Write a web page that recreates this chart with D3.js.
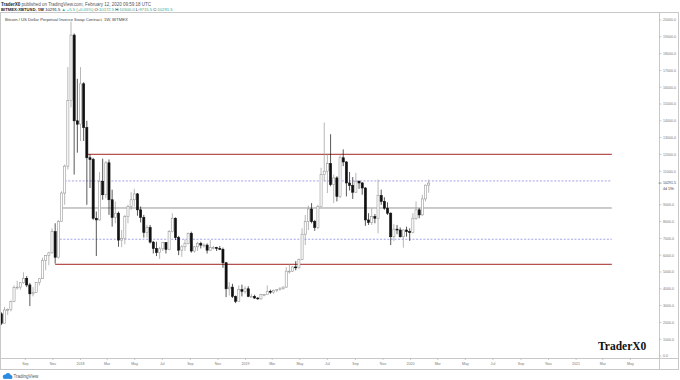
<!DOCTYPE html>
<html><head><meta charset="utf-8">
<script src="https://cdn.jsdelivr.net/npm/d3@7"></script>
<style>body{margin:0;background:#fff}svg{display:block;font-family:"Liberation Sans",Arial,sans-serif}</style>
</head><body><svg id="c" width="680" height="380"></svg>
<script>
// ---- DATA ----
const weeks = [
"2017-07-10","2017-07-17","2017-07-24","2017-07-31","2017-08-07","2017-08-14","2017-08-21","2017-08-28","2017-09-04","2017-09-11","2017-09-18","2017-09-25","2017-10-02","2017-10-09","2017-10-16","2017-10-23","2017-10-30","2017-11-06","2017-11-13","2017-11-20","2017-11-27","2017-12-04","2017-12-11","2017-12-18","2017-12-25",
"2018-01-01","2018-01-08","2018-01-15","2018-01-22","2018-01-29","2018-02-05","2018-02-12","2018-02-19","2018-02-26","2018-03-05","2018-03-12","2018-03-19","2018-03-26","2018-04-02","2018-04-09","2018-04-16","2018-04-23","2018-04-30","2018-05-07","2018-05-14","2018-05-21","2018-05-28","2018-06-04","2018-06-11","2018-06-18","2018-06-25","2018-07-02","2018-07-09","2018-07-16","2018-07-23","2018-07-30","2018-08-06","2018-08-13","2018-08-20","2018-08-27","2018-09-03","2018-09-10","2018-09-17","2018-09-24","2018-10-01","2018-10-08","2018-10-15","2018-10-22","2018-10-29","2018-11-05","2018-11-12","2018-11-19","2018-11-26","2018-12-03","2018-12-10","2018-12-17","2018-12-24","2018-12-31",
"2019-01-07","2019-01-14","2019-01-21","2019-01-28","2019-02-04","2019-02-11","2019-02-18","2019-02-25","2019-03-04","2019-03-11","2019-03-18","2019-03-25","2019-04-01","2019-04-08","2019-04-15","2019-04-22","2019-04-29","2019-05-06","2019-05-13","2019-05-20","2019-05-27","2019-06-03","2019-06-10","2019-06-17","2019-06-24","2019-07-01","2019-07-08","2019-07-15","2019-07-22","2019-07-29","2019-08-05","2019-08-12","2019-08-19","2019-08-26","2019-09-02","2019-09-09","2019-09-16","2019-09-23","2019-09-30","2019-10-07","2019-10-14","2019-10-21","2019-10-28","2019-11-04","2019-11-11","2019-11-18","2019-11-25","2019-12-02","2019-12-09","2019-12-16","2019-12-23","2019-12-30",
"2020-01-06","2020-01-13","2020-01-20","2020-01-27","2020-02-03","2020-02-10"];
const open = [
2510,1950,2740,2760,3240,4080,4100,4360,4620,4230,3700,3780,4380,4600,5700,5990,6140,7400,5880,8000,9700,11300,15200,19100,14000,
13800,16200,13600,11800,11700,8200,8100,10400,9600,11500,9300,8250,8500,6900,7000,8300,8900,9300,9650,8700,8250,7350,7650,6780,6400,6150,6380,6750,6350,7400,8200,7050,6300,6500,6700,7300,6250,6500,6700,6600,6600,6300,6450,6450,6400,6350,5550,4000,4100,3550,3250,3950,3850,
4000,3550,3550,3450,3400,3650,3650,3850,3800,3900,3950,4000,4100,5050,5050,5300,5250,5750,7250,8000,8750,8000,7650,8900,10800,11000,11450,10200,10600,9500,11800,11550,10300,10150,9750,10400,10300,10000,8100,7950,8300,8200,9550,9200,8800,8500,7100,7550,7500,7100,7500,7400,
7350,8200,8700,8400,9350,10172.5];
const high = [
2600,2920,2840,3300,4200,4480,4400,4980,4760,4350,4100,4400,4620,5850,6000,6200,7600,7900,8100,9800,11400,17200,19900,19200,16500,
17200,16300,14000,12000,11800,8600,10950,11750,11600,11700,9900,9200,8600,7500,8400,9000,9750,9950,9700,8900,8400,7800,7800,6850,6800,6500,6800,6780,7500,8500,8250,7150,6600,6950,7350,7400,6550,6800,6800,6700,6700,6900,6550,6500,6550,6450,5600,4400,4300,3600,4200,4250,4150,
4150,3700,3650,3500,3700,3700,4200,3950,3950,3950,4100,4150,5300,5450,5350,5650,5800,7600,8400,8950,9100,8100,9000,11200,13900,12000,13200,10800,10700,11950,12300,11600,10950,10650,10900,10450,10350,10050,8500,8800,8450,10500,9900,9450,9150,8550,7850,7800,7650,7550,7700,7600,
8500,9200,8800,9600,10200,10500];
const low = [
1840,1940,2440,2650,3200,3950,3950,4300,4100,2970,3550,3750,4200,4580,5100,5400,6100,5500,5800,8000,9000,11100,14800,10800,12100,
12800,12800,9000,10000,8100,5950,8050,9300,9400,8400,7700,7900,6500,6480,6650,7900,8700,8900,8350,7950,7050,7050,6700,6100,5950,5780,6250,6100,6300,7350,6900,6000,5900,6250,6650,6150,6150,6250,6400,6450,6100,6250,6350,6250,6300,5250,3500,3600,3450,3150,3250,3550,3700,
3500,3500,3400,3350,3350,3550,3650,3700,3700,3800,3900,3950,4050,4900,5000,5100,5200,5700,6600,7500,7900,7450,7550,8900,10400,9700,10100,9100,9200,9400,11300,9500,9850,9350,9700,9950,9600,7750,7800,7800,7900,7300,9000,8700,8400,6600,6850,7250,7050,6450,7100,6850,
7300,8100,8200,8350,9200,9715.5];
const close = [
1950,2740,2760,3240,4080,4100,4360,4620,4230,3700,3780,4380,4600,5700,5990,6140,7400,5880,8000,9700,11300,15200,19100,14000,13800,
16200,13600,11800,11700,8200,8100,10400,9600,11500,9300,8250,8500,6900,7000,8300,8900,9300,9650,8700,8250,7350,7650,6780,6400,6150,6380,6750,6350,7400,8200,7050,6300,6500,6700,7300,6250,6500,6700,6600,6600,6300,6450,6450,6400,6350,5550,4000,4100,3550,3250,3950,3850,4000,
3550,3550,3450,3400,3650,3650,3850,3800,3900,3950,4000,4100,5050,5050,5300,5250,5750,7250,8000,8750,8000,7650,8900,10800,11000,11450,10200,10600,9500,11800,11550,10300,10150,9750,10400,10300,10000,8100,7950,8300,8200,9550,9200,8800,8500,7100,7550,7500,7100,7500,7400,7350,
8200,8700,8400,9350,10172.5,10291.5];

const yTickValues = [0,1000,2000,3000,4000,5000,6000,7000,8000,9000,11000,12000,13000,14000,15000,16000,17000,18000,19000,20000];
const xTickDates = ["2017-09-01","2017-11-01","2018-01-01","2018-03-01","2018-05-01","2018-07-01","2018-09-01","2018-11-01","2019-01-01","2019-03-01","2019-05-01","2019-07-01","2019-09-01","2019-11-01","2020-01-01","2020-03-01","2020-05-01","2020-07-01","2020-09-01","2020-11-01","2021-01-01","2021-03-01","2021-05-01"];
const xTickLabels = ["Sep","Nov","2018","Mar","May","Jul","Sep","Nov","2019","Mar","May","Jul","Sep","Nov","2020","Mar","May","Jul","Sep","Nov","2021","Mar","May"];

const levelValues = [12000, 10420, 8810, 6950, 5450];
const levelStarts = ["2018-01-15","2017-11-27","2017-11-22","2017-11-16","2017-11-06"];
const levelEnd = "2021-03-21";
const levelKinds = ["red","dash","gray","dash","red"];

const lastPrice = 10291.5;

// ---- CHART ----
const parse = d3.utcParse("%Y-%m-%d");
const svg = d3.select("#c");
svg.append("rect").attr("width",680).attr("height",380).attr("fill","#fff");

const pxPerDay = 0.4522;
const x = d3.scaleUtc().domain([parse("2018-01-01"), parse("2021-01-01")]).range([80.5, 80.5 + 1096*pxPerDay]);
const y = d3.scaleLinear().domain([0, 20000]).range([356, 20]);

const plotL = 1, plotR = 659, plotT = 13, plotB = 358;

// header
const h1 = svg.append("text").attr("x",1).attr("y",5.5).attr("font-size",4.5).attr("fill","#555");
h1.append("tspan").attr("font-weight","bold").attr("fill","#222").text("TraderX0");
h1.append("tspan").text(" published on TradingView.com, February 12, 2020 09:59:18 UTC");
const green = "#3aa88f";
const h2 = svg.append("text").attr("x",1).attr("y",11).attr("font-size",4.2).attr("fill","#222");
h2.append("tspan").attr("font-weight","bold").text("BITMEX:XBTUSD, 1W");
h2.append("tspan").text(" 10291.5 ");
h2.append("tspan").attr("fill",green).text("\u25B2 +5.5 (+0.05%)");
h2.append("tspan").text(" O:");
h2.append("tspan").attr("fill",green).text("10172.5");
h2.append("tspan").text(" H:");
h2.append("tspan").attr("fill",green).text("10500.0");
h2.append("tspan").text(" L:");
h2.append("tspan").attr("fill",green).text("9715.5");
h2.append("tspan").text(" C:");
h2.append("tspan").attr("fill",green).text("10291.5");

// frame
svg.append("rect").attr("x",0.5).attr("y",12.5).attr("width",678).attr("height",357)
  .attr("fill","none").attr("stroke","#c8c8c8").attr("stroke-width",1);
svg.append("line").attr("x1",659.5).attr("x2",659.5).attr("y1",12.5).attr("y2",369.5).attr("stroke","#c8c8c8");
svg.append("line").attr("x1",0.5).attr("x2",678.5).attr("y1",358.5).attr("y2",358.5).attr("stroke","#c8c8c8");

// legend in pane
svg.append("text").attr("x",5).attr("y",20.5).attr("font-size",4.2).attr("fill","#444")
  .text("Bitcoin / US Dollar Perpetual Inverse Swap Contract, 1W, BITMEX");

// clip
svg.append("clipPath").attr("id","pc").append("rect")
  .attr("x",plotL).attr("y",plotT).attr("width",plotR-plotL).attr("height",plotB-plotT);
const pane = svg.append("g").attr("clip-path","url(#pc)");

// levels
const levelStyle = {
  red:{stroke:"#b5524f", w:1.2, dash:null},
  dash:{stroke:"#8a8ae6", w:0.8, dash:"2,1.6"},
  gray:{stroke:"#8c8c8c", w:0.9, dash:null}
};
levelValues.forEach((v,i)=>{
  const s = levelStyle[levelKinds[i]];
  pane.append("line")
    .attr("x1", x(parse(levelStarts[i]))).attr("x2", x(parse(levelEnd)))
    .attr("y1", y(v)).attr("y2", y(v))
    .attr("stroke", s.stroke).attr("stroke-width", s.w)
    .attr("stroke-dasharray", s.dash);
});

// candles
const data = weeks.map((w,i)=>({d:parse(w), o:open[i], h:high[i], l:low[i], c:close[i]}));
const bw = 2.1;
const upStroke = "#999", dnColor = "#111";
const cg = pane.append("g");
cg.selectAll("line.w").data(data).join("line").attr("class","w")
  .attr("x1", d=>x(d.d)).attr("x2", d=>x(d.d))
  .attr("y1", d=>y(d.h)).attr("y2", d=>y(d.l))
  .attr("stroke", d=> d.c>=d.o ? upStroke : dnColor).attr("stroke-width",0.7);
cg.selectAll("rect.b").data(data).join("rect").attr("class","b")
  .attr("x", d=>x(d.d)-bw/2)
  .attr("y", d=>y(Math.max(d.o,d.c)))
  .attr("width", bw)
  .attr("height", d=>Math.max(0.8, Math.abs(y(d.o)-y(d.c))))
  .attr("fill", d=> d.c>=d.o ? "#fff" : dnColor)
  .attr("stroke", d=> d.c>=d.o ? upStroke : dnColor)
  .attr("stroke-width",0.6);

// y axis
const yg = svg.append("g");
yTickValues.forEach(v=>{
  yg.append("line").attr("x1",659.5).attr("x2",661.5).attr("y1",y(v)).attr("y2",y(v)).attr("stroke","#aaa").attr("stroke-width",0.6);
  yg.append("text").attr("x",663).attr("y",y(v)+1.3).attr("font-size",3.6).attr("fill","#777").text(d3.format(".1f")(v));
});
// last price label
yg.append("line").attr("x1",658.5).attr("x2",661.5).attr("y1",y(lastPrice)).attr("y2",y(lastPrice)).attr("stroke","#555").attr("stroke-width",0.6);
yg.append("text").attr("x",663).attr("y",y(lastPrice)+1.3).attr("font-size",3.6).attr("fill","#444").text(d3.format(".1f")(lastPrice));
yg.append("text").attr("x",663).attr("y",y(lastPrice)+7.3).attr("font-size",3.6).attr("fill","#444").text("4d 19h");

// x axis
const xg = svg.append("g");
xTickDates.forEach((d,i)=>{
  const xx = x(parse(d));
  xg.append("line").attr("x1",xx).attr("x2",xx).attr("y1",358.5).attr("y2",360).attr("stroke","#aaa").attr("stroke-width",0.6);
  xg.append("text").attr("x",xx).attr("y",364.8).attr("font-size",3.6).attr("fill","#777").attr("text-anchor","middle").text(xTickLabels[i]);
});

// watermark
svg.append("text").attr("x",598).attr("y",350).attr("font-family","'Liberation Serif','DejaVu Serif',serif")
  .attr("font-weight","bold").attr("font-size",11.5).attr("fill","#111").text("TraderX0");

// TradingView logo
const lg = svg.append("g").attr("transform","translate(2,373)");
lg.append("circle").attr("cx",3).attr("cy",3.6).attr("r",2.2).attr("fill","#2b8be0");
lg.append("circle").attr("cx",6).attr("cy",2.6).attr("r",2.6).attr("fill","#2b8be0");
lg.append("circle").attr("cx",8.6).attr("cy",3.9).attr("r",1.9).attr("fill","#2b8be0");
lg.append("rect").attr("x",1.5).attr("y",3.8).attr("width",8.5).attr("height",2).attr("fill","#2b8be0");
svg.append("text").attr("x",13.5).attr("y",378).attr("font-size",4.5).attr("fill","#555").text("TradingView");
</script></body></html>
